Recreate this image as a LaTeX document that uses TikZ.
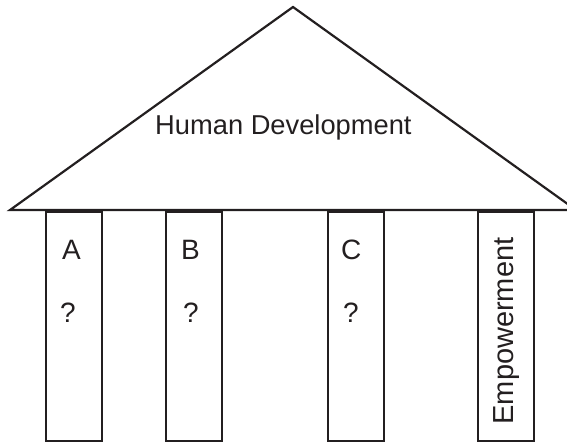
\documentclass[tikz,border=0pt]{standalone}
\usepackage{fontspec}
\setmainfont{Liberation Sans}
\definecolor{ink}{HTML}{231F20}
\begin{document}
\begin{tikzpicture}[x=1pt,y=-1pt,
  pillar/.style={draw=ink, line width=2pt, minimum width=56pt, minimum height=229pt, inner sep=0pt, anchor=north west},
  lbl/.style={text=ink, font=\fontsize{28}{32}\selectfont, inner sep=0pt, anchor=base west}]
\useasboundingbox (0,0) rectangle (567,442);
\begin{scope}
\clip (0,0) rectangle (567,442);
\draw[ink, line width=2.2pt, line join=miter] (10,210) -- (293,7) -- (576,210) -- cycle;
\end{scope}
\node[pillar] (pa) at (45,211) {};
\node[pillar] (pb) at (164.5,211) {};
\node[pillar] (pc) at (326.5,211) {};
\node[pillar] (pe) at (477,211) {};
\node[lbl, font=\fontsize{27.3}{32}\selectfont] (title) at (155,134) {Human Development};
\node[lbl] (la) at (62,259) {A};
\node[lbl] (qa) at (60,322) {?};
\node[lbl] (lb) at (181,259) {B};
\node[lbl] (qb) at (183,322) {?};
\node[lbl] (lc) at (341,259) {C};
\node[lbl] (qc) at (343,322) {?};
\node[text=ink, font=\fontsize{29}{32}\selectfont, inner sep=0pt, anchor=base, rotate=90] (le) at (513,331) {Empowerment};
\end{tikzpicture}
\end{document}
